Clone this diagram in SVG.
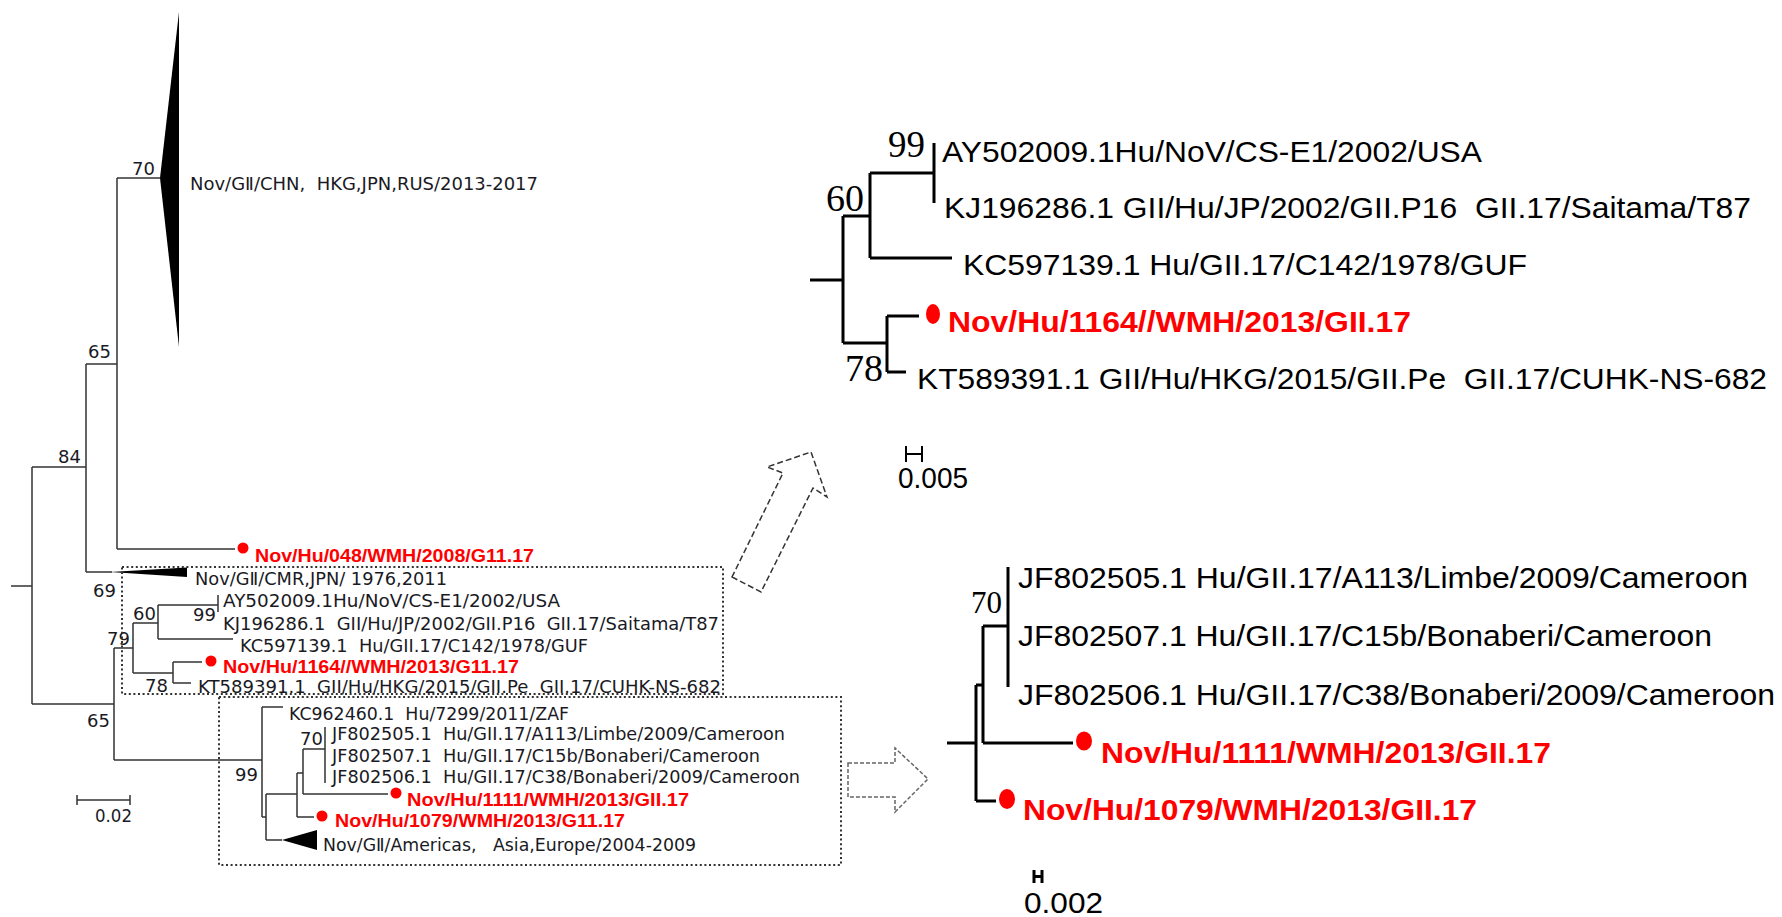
<svg xmlns="http://www.w3.org/2000/svg" width="1782" height="917" viewBox="0 0 1782 917">
<style>
text{white-space:pre}
.lt{font-family:"DejaVu Sans",Verdana,sans-serif;font-size:17px;fill:#1a1a24}
.ln{font-family:"DejaVu Sans",Verdana,sans-serif;font-size:18px;fill:#1a1a24}
.lr{font-family:"Liberation Sans",Arial,sans-serif;font-weight:bold;font-size:19px;fill:#f00}
.rt{font-family:"Liberation Sans",Arial,sans-serif;font-size:29px;fill:#000}
.rr{font-family:"Liberation Sans",Arial,sans-serif;font-weight:bold;font-size:30px;fill:#f00}
.rn{font-family:"Liberation Serif","Times New Roman",serif;fill:#000}
.e1{fill:none;stroke:#333;stroke-width:1.5}
.e2{fill:none;stroke:#000;stroke-width:3}
.box{fill:none;stroke:#333;stroke-width:2;stroke-dasharray:2 2.6}
.dot{fill:#f00}
</style>
<rect width="1782" height="917" fill="#fff"/>

<g id="connectors">
  <path class="e1" d="M11,586H32 M32,467V704 M32,467H86 M86,364V572 M86,364H117 M117,178V549 M117,178H160 M117,549H235 M86,572H112 M32,704H114 M114,648V760 M114,648H133 M133,623V673 M133,623H158 M158,605V639 M158,605H218 M218,595V612 M158,639H233 M133,673H173 M173,662V683 M173,662H202 M173,683H191 M114,760H262 M262,707V817 M262,707H283 M262,817H266 M266,794V840 M266,794H297 M266,840H282 M297,773V817 M297,773H303 M303,749V794 M303,749H325 M325,727V783 M303,794H388 M297,817H314"/>
  <path class="e2" d="M810,280H843 M843,216V343 M843,216H870 M870,173V258 M870,173H934 M934,143V203 M870,258H952 M843,343H887 M887,316V372 M887,316H919 M887,372H906"/>
  <path class="e2" d="M947,743H976 M976,685V801 M976,685H983 M983,626V743 M983,626H1008 M1008,567V687 M983,743H1073 M976,801H996"/>
</g>

<g id="clade-chn">
  <polygon points="160,178 179,12 179,347" fill="#000"/>
  <text class="lt" x="190" y="190" textLength="348" lengthAdjust="spacingAndGlyphs">Nov/GⅡ/CHN,  HKG,JPN,RUS/2013-2017</text>
</g>
<g id="clade-cmr">
  <polygon points="110,572 187,567.5 187,577" fill="#000"/>
  <text class="lt" x="195" y="585" textLength="252" lengthAdjust="spacingAndGlyphs">Nov/GⅡ/CMR,JPN/ 1976,2011</text>
</g>
<g id="clade-americas">
  <polygon points="282,840 317,830 317,850" fill="#000"/>
  <text class="lt" x="323" y="851" textLength="373" lengthAdjust="spacingAndGlyphs">Nov/GⅡ/Americas,   Asia,Europe/2004-2009</text>
</g>

<g id="left-support">
  <text class="ln" x="132" y="175">70</text>
  <text class="ln" x="88" y="358">65</text>
  <text class="ln" x="58" y="463">84</text>
  <text class="ln" x="93" y="597">69</text>
  <text class="ln" x="133" y="620">60</text>
  <text class="ln" x="193" y="621">99</text>
  <text class="ln" x="107" y="645">79</text>
  <text class="ln" x="145" y="692">78</text>
  <text class="ln" x="87" y="727">65</text>
  <text class="ln" x="300" y="745">70</text>
  <text class="ln" x="235" y="781">99</text>
</g>

<g id="left-leaves">
  <g id="l-048"><circle class="dot" cx="243" cy="548" r="5.5"/><text class="lr" x="255" y="562" textLength="279" lengthAdjust="spacingAndGlyphs">Nov/Hu/048/WMH/2008/G11.17</text></g>
  <g id="l-ay"><text class="lt" x="223" y="607" textLength="337" lengthAdjust="spacingAndGlyphs">AY502009.1Hu/NoV/CS-E1/2002/USA</text></g>
  <g id="l-kj"><text class="lt" x="223" y="630" textLength="496" lengthAdjust="spacingAndGlyphs">KJ196286.1  GII/Hu/JP/2002/GII.P16  GII.17/Saitama/T87</text></g>
  <g id="l-kc"><text class="lt" x="240" y="652" textLength="348" lengthAdjust="spacingAndGlyphs">KC597139.1  Hu/GII.17/C142/1978/GUF</text></g>
  <g id="l-1164"><circle class="dot" cx="211" cy="661" r="5.5"/><text class="lr" x="223" y="673" textLength="296" lengthAdjust="spacingAndGlyphs">Nov/Hu/1164//WMH/2013/G11.17</text></g>
  <g id="l-kt"><text class="lt" x="198" y="693" textLength="523" lengthAdjust="spacingAndGlyphs">KT589391.1  GII/Hu/HKG/2015/GII.Pe  GII.17/CUHK-NS-682</text></g>
  <g id="l-kc96"><text class="lt" x="289" y="720" textLength="280" lengthAdjust="spacingAndGlyphs">KC962460.1  Hu/7299/2011/ZAF</text></g>
  <g id="l-jf05"><text class="lt" x="332" y="740" textLength="453" lengthAdjust="spacingAndGlyphs">JF802505.1  Hu/GII.17/A113/Limbe/2009/Cameroon</text></g>
  <g id="l-jf07"><text class="lt" x="332" y="762" textLength="428" lengthAdjust="spacingAndGlyphs">JF802507.1  Hu/GII.17/C15b/Bonaberi/Cameroon</text></g>
  <g id="l-jf06"><text class="lt" x="332" y="783" textLength="468" lengthAdjust="spacingAndGlyphs">JF802506.1  Hu/GII.17/C38/Bonaberi/2009/Cameroon</text></g>
  <g id="l-1111"><circle class="dot" cx="396" cy="793" r="5.5"/><text class="lr" x="407" y="806" textLength="282" lengthAdjust="spacingAndGlyphs">Nov/Hu/1111/WMH/2013/GII.17</text></g>
  <g id="l-1079"><circle class="dot" cx="322" cy="816" r="5.5"/><text class="lr" x="335" y="827" textLength="290" lengthAdjust="spacingAndGlyphs">Nov/Hu/1079/WMH/2013/G11.17</text></g>
</g>

<g id="left-scale">
  <path class="e1" d="M77,800H130 M77,795V805 M130,795V805"/>
  <text class="lt" x="95" y="822" textLength="37" lengthAdjust="spacingAndGlyphs">0.02</text>
</g>

<g id="boxes">
  <rect class="box" x="122" y="567" width="601" height="127"/>
  <rect class="box" x="219" y="697" width="622" height="168"/>
</g>

<g id="arrows">
  <polygon points="732,577 761,592 813,488 827,497 811,452 767,467 783,473" fill="none" stroke="#333" stroke-width="1.5" stroke-dasharray="6 3"/>
  <polygon points="848,763 895,763 895,748 928,779 895,812 895,797 848,797" fill="none" stroke="#666" stroke-width="1.5" stroke-dasharray="4 2"/>
</g>

<g id="right-top">
  <text class="rn" x="888" y="157" font-size="37">99</text>
  <text class="rn" x="826" y="211" font-size="38">60</text>
  <text class="rn" x="845" y="381" font-size="38">78</text>
  <g id="r-ay"><text class="rt" x="942" y="162" textLength="540" lengthAdjust="spacingAndGlyphs">AY502009.1Hu/NoV/CS-E1/2002/USA</text></g>
  <g id="r-kj"><text class="rt" x="944" y="218" textLength="807" lengthAdjust="spacingAndGlyphs">KJ196286.1 GII/Hu/JP/2002/GII.P16  GII.17/Saitama/T87</text></g>
  <g id="r-kc"><text class="rt" x="963" y="275" textLength="564" lengthAdjust="spacingAndGlyphs">KC597139.1 Hu/GII.17/C142/1978/GUF</text></g>
  <g id="r-1164"><ellipse class="dot" cx="933" cy="314" rx="7" ry="10"/><text class="rr" x="948" y="332" textLength="463" lengthAdjust="spacingAndGlyphs">Nov/Hu/1164//WMH/2013/GII.17</text></g>
  <g id="r-kt"><text class="rt" x="917" y="389" textLength="850" lengthAdjust="spacingAndGlyphs">KT589391.1 GII/Hu/HKG/2015/GII.Pe  GII.17/CUHK-NS-682</text></g>
  <path d="M906,446V462 M922,446V462 M906,454H922" fill="none" stroke="#000" stroke-width="2"/>
  <text class="rt" x="898" y="488" font-size="28" textLength="70" lengthAdjust="spacingAndGlyphs">0.005</text>
</g>

<g id="right-bottom">
  <text class="rn" x="971" y="613" font-size="31">70</text>
  <g id="r-jf05"><text class="rt" x="1018" y="588" textLength="730" lengthAdjust="spacingAndGlyphs">JF802505.1 Hu/GII.17/A113/Limbe/2009/Cameroon</text></g>
  <g id="r-jf07"><text class="rt" x="1018" y="646" textLength="694" lengthAdjust="spacingAndGlyphs">JF802507.1 Hu/GII.17/C15b/Bonaberi/Cameroon</text></g>
  <g id="r-jf06"><text class="rt" x="1018" y="705" textLength="757" lengthAdjust="spacingAndGlyphs">JF802506.1 Hu/GII.17/C38/Bonaberi/2009/Cameroon</text></g>
  <g id="r-1111"><ellipse class="dot" cx="1084" cy="741" rx="8" ry="9.5"/><text class="rr" x="1101" y="763" textLength="450" lengthAdjust="spacingAndGlyphs">Nov/Hu/1111/WMH/2013/GII.17</text></g>
  <g id="r-1079"><ellipse class="dot" cx="1007" cy="799" rx="8" ry="10"/><text class="rr" x="1023" y="820" textLength="454" lengthAdjust="spacingAndGlyphs">Nov/Hu/1079/WMH/2013/GII.17</text></g>
  <path d="M1034,870V883 M1042,870V883 M1034,876.5H1042" fill="none" stroke="#000" stroke-width="3"/>
  <text class="rt" x="1024" y="913" textLength="79" lengthAdjust="spacingAndGlyphs">0.002</text>
</g>
</svg>
